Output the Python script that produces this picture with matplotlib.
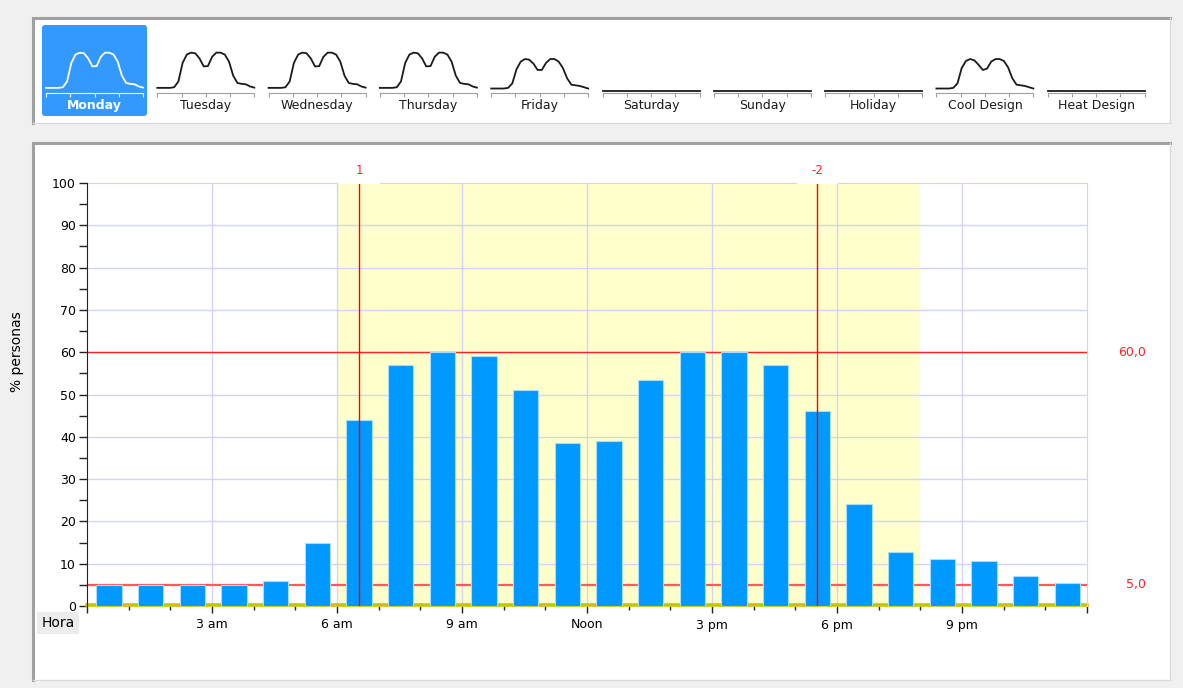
import numpy as np
import matplotlib
matplotlib.use('Agg')
import matplotlib.pyplot as plt
from matplotlib.patches import Rectangle, FancyBboxPatch
from matplotlib.lines import Line2D

W, H = 1183, 688

# hourly occupancy (% personas), Monday schedule shown in the big chart
hours = np.arange(24)
monday = [5, 5, 5, 5, 6, 15, 44, 57, 60, 59, 51, 38.5, 39, 53.5, 60, 60, 57, 46,
          24, 12.7, 11.2, 10.6, 7.2, 5.4]
friday = [4, 4, 4, 4, 5, 12, 34, 46, 50, 49, 43, 33, 33, 44, 50, 50, 46, 36,
          20, 10, 9, 8, 6, 4]
cool_design = [4, 4, 4, 4, 5, 12, 36, 47, 50, 48, 41, 33, 35, 46, 50, 50, 47, 37,
               20, 10, 9, 8, 6, 4]
flat = [0] * 24

day_names = ['Monday', 'Tuesday', 'Wednesday', 'Thursday', 'Friday', 'Saturday',
             'Sunday', 'Holiday', 'Cool Design', 'Heat Design']
day_profiles = [monday, monday, monday, monday, friday, flat, flat, flat,
                cool_design, flat]

hour_ticks = [3, 6, 9, 12, 15, 18, 21]
hour_labels = ['3 am', '6 am', '9 am', 'Noon', '3 pm', '6 pm', '9 pm']
occupied = (6, 20)
markers = [6.53, 17.53]
marker_labels = ['1', '-2']
limits = [60, 5]
limit_labels = ['60,0', '5,0']


def px_rect(x0, y0, x1, y1, **kw):
    # rectangle given in image pixels (top-left origin)
    return Rectangle((x0, H - y1), x1 - x0, y1 - y0, transform=None, zorder=-5, **kw)


def px_line(xs, ys, **kw):
    return Line2D(xs, [H - y for y in ys], transform=None, zorder=-4, **kw)


def panel(fig, x0, y0, x1, y1):
    fig.add_artist(px_rect(x0, y0, x1, y1, facecolor='white', edgecolor='none'))
    fig.add_artist(px_line([x0, x1], [y0, y0], color='#a0a0a0', lw=2.2))
    fig.add_artist(px_line([x0, x0], [y0, y1], color='#a0a0a0', lw=2.2))
    fig.add_artist(px_line([x1, x1], [y0, y1], color='#dcdcdc', lw=1))
    fig.add_artist(px_line([x0, x1], [y1, y1], color='#dcdcdc', lw=1))


fig = plt.figure(figsize=(W / 100, H / 100), dpi=100)
fig.patch.set_facecolor('#f0f0f0')

panel(fig, 33, 18, 1170, 123)
panel(fig, 33, 143, 1170, 680)

# selected day highlight
fig.add_artist(FancyBboxPatch((42, H - 116), 105, 91, boxstyle='round,pad=0,rounding_size=3',
                              transform=None, facecolor='#3399ff', edgecolor='none',
                              zorder=-3))

# day thumbnails
for i, (name, prof) in enumerate(zip(day_names, day_profiles)):
    left = 46 + 111.3 * i
    sel = i == 0
    col = 'white' if sel else '#1a1a1a'
    tax = fig.add_axes([left / W, 1 - 93 / H, 97 / W, 66 / H])
    tax.patch.set_alpha(0)
    tax.plot(hours + 0.5, prof, color=col, lw=1.3, clip_on=False,
             solid_joinstyle='round')
    tax.set_xlim(0.5, 23.5)
    tax.set_ylim(-3, 100)
    for s in ['top', 'right', 'left']:
        tax.spines[s].set_visible(False)
    tax.spines['bottom'].set_color('white' if sel else '#a0a0a0')
    tax.set_yticks([])
    tax.set_xticks(np.linspace(0.5, 23.5, 5))
    tax.set_xticklabels([])
    tax.tick_params(axis='x', length=3, color='white' if sel else '#a0a0a0')
    fig.text((left + 48.5) / W, 1 - 106 / H, name, ha='center', va='center',
             fontsize=9, color=col, fontweight='bold' if sel else 'normal')

# main chart
ax = fig.add_axes([87 / W, 1 - 606 / H, 1000 / W, 423 / H])
ax.set_xlim(0, 24)
ax.set_ylim(0, 100)
ax.axvspan(occupied[0], occupied[1], color='#ffffcc', zorder=0, lw=0)

grid_c = '#d2d2fa'
for x in hour_ticks:
    ax.axvline(x, color=grid_c, lw=1, zorder=1)
for y in range(10, 100, 10):
    ax.axhline(y, color=grid_c, lw=1, zorder=1)

ax.axhline(0.3, color='#c4c400', lw=2.6, zorder=2, clip_on=False)
ax.axhline(limits[0], color='#ff2020', lw=1, zorder=2)
ax.axhline(limits[1], color='#ff5a5a', lw=1.6, zorder=2)

ax.bar(hours + 0.53, monday, width=0.61, color='#0099ff', edgecolor='#a8dcff',
       linewidth=0.8, zorder=3)

for m, lab in zip(markers, marker_labels):
    ax.axvline(m, color='#ff0000', lw=1, zorder=4)
    ax.add_patch(Rectangle((m - 0.5, 99.8), 1.0, 1.6, facecolor='white',
                           edgecolor='none', zorder=5, clip_on=False))
    ax.annotate(lab, xy=(m, 100), xytext=(0, 4), textcoords='offset points',
                ha='center', va='bottom', color='#ff2020', fontsize=8.5)

for v, lab in zip(limits, limit_labels):
    ax.text(1.059, v, lab, transform=ax.get_yaxis_transform(), ha='right',
            va='center', color='#ff2020', fontsize=9)

ax.spines['left'].set_color('#222222')
ax.spines['bottom'].set_visible(False)
ax.spines['top'].set_color(grid_c)
ax.spines['right'].set_color(grid_c)
ax.spines['top'].set_zorder(1.5)

ax.set_xticks([0] + hour_ticks + [24])
ax.set_xticklabels([''] + hour_labels + [''])
ax.set_xticks(np.arange(25), minor=True)
ax.set_yticks(np.arange(0, 101, 10))
ax.set_yticks(np.arange(0, 101, 5), minor=True)
ax.tick_params(axis='x', which='major', length=5, width=1, color='#222222',
               labelsize=9, pad=4)
ax.tick_params(axis='x', which='minor', length=3, width=1, color='#222222')
ax.tick_params(axis='y', which='both', length=6, width=1, color='#222222',
               labelsize=9, pad=2)

fig.text(17 / W, 1 - 352 / H, '% personas', rotation=90, ha='center', va='center',
         fontsize=10)
fig.text(58 / W, 1 - 623 / H, 'Hora', ha='center', va='center', fontsize=10,
         bbox=dict(facecolor='#ececec', edgecolor='none', boxstyle='square,pad=0.3'))

fig.savefig('out.png', dpi=100, facecolor=fig.get_facecolor())
